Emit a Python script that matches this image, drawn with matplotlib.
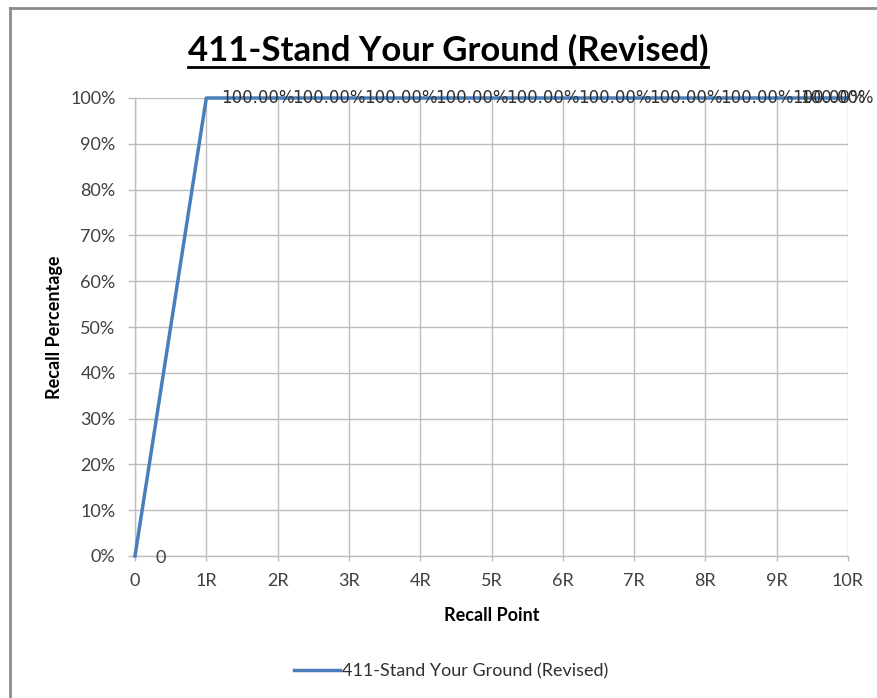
import matplotlib
matplotlib.use("Agg")
import matplotlib.pyplot as plt
from matplotlib.lines import Line2D

# --- data ---
categories = ["0", "1R", "2R", "3R", "4R", "5R", "6R", "7R", "8R", "9R", "10R"]
recall = [0.0, 1.0, 1.0, 1.0, 1.0, 1.0, 1.0, 1.0, 1.0, 1.0, 1.0]
point_labels = ["0"] + ["100.00%"] * 10
y_ticks = [0.0, 0.1, 0.2, 0.3, 0.4, 0.5, 0.6, 0.7, 0.8, 0.9, 1.0]
y_ticklabels = ["0%", "10%", "20%", "30%", "40%", "50%", "60%", "70%", "80%", "90%", "100%"]
series_name = "411-Stand Your Ground (Revised)"
title = "411-Stand Your Ground (Revised)"

FONT = ["Lato", "DejaVu Sans"]
GRID = "#bdbdbd"
BLUE = "#4a7ebb"
TXT = "#404040"

fig = plt.figure(figsize=(8.77, 6.98), dpi=100, facecolor="white")
ax = fig.add_axes([135 / 877, 1 - 556 / 698, (848 - 135) / 877, (556 - 98) / 698])

x = list(range(len(categories)))
ax.plot(x, recall, color=BLUE, linewidth=2.5, label=series_name, clip_on=False, zorder=3)

ax.set_xlim(0, len(categories) - 1)
ax.set_ylim(0, 1)
ax.set_xticks(x)
ax.set_xticklabels(categories, family=FONT, fontsize=13, color=TXT)
ax.set_yticks(y_ticks)
ax.set_yticklabels(y_ticklabels, family=FONT, fontsize=13, color=TXT)
ax.tick_params(axis="both", direction="out", color=GRID, width=1)
ax.tick_params(axis="x", length=3.5, pad=9)
ax.tick_params(axis="y", length=5, pad=9)
ax.grid(True, color=GRID, linewidth=1)
ax.set_axisbelow(True)
for side in ("top", "right"):
    ax.spines[side].set_visible(False)
for side in ("left", "bottom"):
    ax.spines[side].set_color(GRID)
    ax.spines[side].set_linewidth(1)

# data labels
for i, (xv, yv, lab) in enumerate(zip(x, recall, point_labels)):
    if i == 0:
        ax.annotate(lab, (xv, yv), xytext=(20, -2), textcoords="offset pixels",
                    ha="left", va="center", family=FONT, fontsize=13, color=TXT,
                    annotation_clip=False)
    elif i == len(x) - 1:
        ax.annotate(lab, (xv, yv), xytext=(-48, 0), textcoords="offset pixels",
                    ha="left", va="center", family="DejaVu Sans", fontsize=12,
                    color="#303030", annotation_clip=False)
    else:
        ax.annotate(lab, (xv, yv), xytext=(15, 0), textcoords="offset pixels",
                    ha="left", va="center", family="DejaVu Sans", fontsize=12,
                    color="#303030", annotation_clip=False)

ax.set_xlabel("Recall Point", family=FONT, fontsize=13, fontweight="bold", labelpad=13)
ax.set_ylabel("Recall Percentage", family=FONT, fontsize=13, fontweight="bold", labelpad=5)

# title with underline
t = fig.text(448 / 877, 1 - 50 / 698, title, ha="center", va="center",
             family=FONT, fontsize=25, fontweight="bold", color="black")
fig.canvas.draw()
bb = t.get_window_extent(renderer=fig.canvas.get_renderer())
uy = 1 - 67 / 698
fig.add_artist(Line2D([bb.x0 / 877, bb.x1 / 877], [uy, uy], color="black", linewidth=2))

fig.legend(loc="center", bbox_to_anchor=(451 / 877, 1 - 671 / 698), frameon=False,
           prop={"family": FONT, "size": 13}, labelcolor="#303030",
           handlelength=2.6, handletextpad=0.1)

# outer chart border (left and top only visible)
fig.add_artist(Line2D([10 / 877, 10 / 877], [0, 1 - 8 / 698], color="#8c8c8c", linewidth=2))
fig.add_artist(Line2D([10 / 877, 1], [1 - 8 / 698, 1 - 8 / 698], color="#8c8c8c", linewidth=2))

fig.savefig("out.png", dpi=100, facecolor="white")
